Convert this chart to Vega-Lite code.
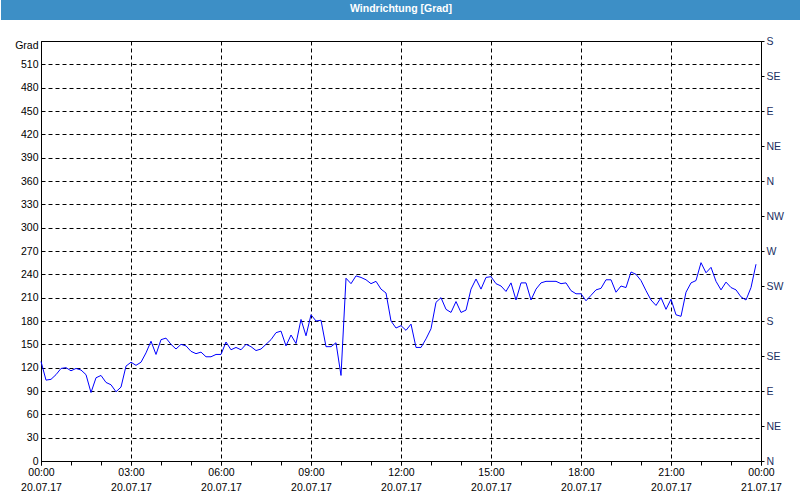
{
  "$schema": "https://vega.github.io/schema/vega-lite/v6.json",
  "background": "white",
  "padding": 0,
  "spacing": 0,
  "datasets": {
    "title": [{"label": "Windrichtung [Grad]"}],
    "wind": [
      {"m": 0, "v": 128}, {"m": 10, "v": 104}, {"m": 20, "v": 105}, {"m": 30, "v": 111}, {"m": 40, "v": 119}, {"m": 50, "v": 120},
      {"m": 60, "v": 116}, {"m": 70, "v": 119}, {"m": 80, "v": 117}, {"m": 90, "v": 111}, {"m": 100, "v": 88}, {"m": 110, "v": 107},
      {"m": 120, "v": 110}, {"m": 130, "v": 101}, {"m": 140, "v": 98}, {"m": 150, "v": 89}, {"m": 160, "v": 95}, {"m": 170, "v": 122},
      {"m": 180, "v": 127}, {"m": 190, "v": 123}, {"m": 200, "v": 127}, {"m": 210, "v": 139}, {"m": 220, "v": 154}, {"m": 230, "v": 137},
      {"m": 240, "v": 156}, {"m": 250, "v": 158}, {"m": 260, "v": 150}, {"m": 270, "v": 144}, {"m": 280, "v": 150}, {"m": 290, "v": 148},
      {"m": 300, "v": 141}, {"m": 310, "v": 138}, {"m": 320, "v": 140}, {"m": 330, "v": 134}, {"m": 340, "v": 134}, {"m": 350, "v": 137},
      {"m": 360, "v": 137}, {"m": 370, "v": 153}, {"m": 380, "v": 143}, {"m": 390, "v": 146}, {"m": 400, "v": 143}, {"m": 410, "v": 150},
      {"m": 420, "v": 147}, {"m": 430, "v": 142}, {"m": 440, "v": 144}, {"m": 450, "v": 150}, {"m": 460, "v": 156}, {"m": 470, "v": 165},
      {"m": 480, "v": 167}, {"m": 490, "v": 148}, {"m": 500, "v": 162}, {"m": 510, "v": 151}, {"m": 520, "v": 182}, {"m": 530, "v": 161},
      {"m": 540, "v": 188}, {"m": 550, "v": 180}, {"m": 560, "v": 181}, {"m": 570, "v": 147}, {"m": 580, "v": 147}, {"m": 590, "v": 152},
      {"m": 600, "v": 110}, {"m": 610, "v": 235}, {"m": 620, "v": 228}, {"m": 630, "v": 238}, {"m": 640, "v": 236}, {"m": 650, "v": 233},
      {"m": 660, "v": 228}, {"m": 670, "v": 231}, {"m": 680, "v": 221}, {"m": 690, "v": 216}, {"m": 700, "v": 180}, {"m": 710, "v": 171},
      {"m": 720, "v": 174}, {"m": 730, "v": 168}, {"m": 740, "v": 176}, {"m": 750, "v": 146}, {"m": 760, "v": 146}, {"m": 770, "v": 157},
      {"m": 780, "v": 170}, {"m": 790, "v": 204}, {"m": 800, "v": 210}, {"m": 810, "v": 195}, {"m": 820, "v": 191}, {"m": 830, "v": 205},
      {"m": 840, "v": 191}, {"m": 850, "v": 194}, {"m": 860, "v": 221}, {"m": 870, "v": 234}, {"m": 880, "v": 221}, {"m": 890, "v": 236},
      {"m": 900, "v": 237}, {"m": 910, "v": 228}, {"m": 920, "v": 225}, {"m": 930, "v": 218}, {"m": 940, "v": 229}, {"m": 950, "v": 207},
      {"m": 960, "v": 229}, {"m": 970, "v": 229}, {"m": 980, "v": 207}, {"m": 990, "v": 221}, {"m": 1000, "v": 229}, {"m": 1010, "v": 231},
      {"m": 1020, "v": 231}, {"m": 1030, "v": 231}, {"m": 1040, "v": 228}, {"m": 1050, "v": 229}, {"m": 1060, "v": 219}, {"m": 1070, "v": 215},
      {"m": 1080, "v": 215}, {"m": 1090, "v": 206}, {"m": 1100, "v": 213}, {"m": 1110, "v": 220}, {"m": 1120, "v": 222}, {"m": 1130, "v": 233},
      {"m": 1140, "v": 233}, {"m": 1150, "v": 217}, {"m": 1160, "v": 225}, {"m": 1170, "v": 223}, {"m": 1180, "v": 243}, {"m": 1190, "v": 240},
      {"m": 1200, "v": 232}, {"m": 1210, "v": 219}, {"m": 1220, "v": 207}, {"m": 1230, "v": 200}, {"m": 1240, "v": 210}, {"m": 1250, "v": 195},
      {"m": 1260, "v": 208}, {"m": 1270, "v": 188}, {"m": 1280, "v": 186}, {"m": 1290, "v": 217}, {"m": 1300, "v": 229}, {"m": 1310, "v": 232},
      {"m": 1320, "v": 255}, {"m": 1330, "v": 242}, {"m": 1340, "v": 249}, {"m": 1350, "v": 231}, {"m": 1360, "v": 220}, {"m": 1370, "v": 230},
      {"m": 1380, "v": 223}, {"m": 1390, "v": 220}, {"m": 1400, "v": 211}, {"m": 1410, "v": 207}, {"m": 1420, "v": 223}, {"m": 1430, "v": 253}
    ]
  },
  "vconcat": [
    {
      "width": 720,
      "height": 20,
      "view": {"stroke": null},
      "data": {"name": "title"},
      "layer": [
        {
          "mark": {"type": "rect", "color": "#3d8fc6", "clip": false},
          "encoding": {
            "x": {"datum": -80, "type": "quantitative", "scale": {"domain": [0, 1440], "nice": false, "zero": false}, "axis": null},
            "x2": {"datum": 1520}
          }
        },
        {
          "mark": {"type": "text", "color": "white", "font": "Liberation Sans", "fontWeight": "bold", "fontSize": 10.5, "baseline": "middle", "dy": -1},
          "encoding": {"text": {"field": "label", "type": "nominal"}}
        }
      ]
    },
    {
      "width": 720,
      "height": 420,
      "view": {"stroke": "black", "strokeWidth": 1},
      "data": {"name": "wind"},
      "layer": [
        {
          "mark": {"type": "line", "color": "#0000ff", "strokeWidth": 1},
          "encoding": {
            "x": {
              "field": "m", "type": "quantitative",
              "scale": {"domain": [0, 1440], "nice": false, "zero": false},
              "axis": {
                "orient": "bottom",
                "title": " ",
                "titleX": -40, "titleY": -440, "titleAlign": "left", "titleBaseline": "top", "titleFontSize": 10,
                "values": [0, 180, 360, 540, 720, 900, 1080, 1260, 1440],
                "labelExpr": "[(floor(datum.value / 60) % 24 < 10 ? '0' : '') + (floor(datum.value / 60) % 24) + ':00', datum.value >= 1440 ? '21.07.17' : '20.07.17']",
                "labelOverlap": false, "labelFlush": false,
                "labelFont": "Liberation Sans", "labelFontSize": 10.5, "labelColor": "black", "labelPadding": 2, "labelLineHeight": 15, "labelBaseline": "top",
                "tickSize": 4, "tickColor": "black", "domainColor": "black",
                "grid": true, "gridColor": "black", "gridDash": [4, 3]
              }
            },
            "y": {
              "field": "v", "type": "quantitative",
              "scale": {"domain": [0, 540], "nice": false},
              "axis": {
                "orient": "left",
                "title": "Grad", "titleAngle": 0, "titleAlign": "right", "titleBaseline": "middle", "titleX": -3, "titleY": 4,
                "titleFont": "Liberation Sans", "titleFontWeight": "normal", "titleFontSize": 10.5, "titleColor": "black",
                "values": [0, 30, 60, 90, 120, 150, 180, 210, 240, 270, 300, 330, 360, 390, 420, 450, 480, 510],
                "labelFont": "Liberation Sans", "labelFontSize": 10.5, "labelColor": "black", "labelPadding": 3,
                "ticks": false, "domainColor": "black",
                "grid": true, "gridColor": "black", "gridDash": [4, 3]
              }
            }
          }
        },
        {
          "mark": {"type": "line", "opacity": 0},
          "encoding": {
            "x": {
              "field": "m", "type": "quantitative",
              "axis": {
                "orient": "bottom", "title": null,
                "values": [0, 60, 120, 180, 240, 300, 360, 420, 480, 540, 600, 660, 720, 780, 840, 900, 960, 1020, 1080, 1140, 1200, 1260, 1320, 1380, 1440],
                "labels": false, "domain": false, "grid": false,
                "tickSize": 4, "tickColor": "black"
              }
            },
            "y": {
              "field": "v", "type": "quantitative",
              "axis": {
                "orient": "right", "title": null,
                "values": [0, 45, 90, 135, 180, 225, 270, 315, 360, 405, 450, 495, 540],
                "labelExpr": "['N','NE','E','SE','S','SW','W','NW'][round(datum.value / 45) % 8]",
                "labelFont": "Liberation Sans", "labelFontSize": 10.5, "labelColor": "#1a2f5f", "labelPadding": 2,
                "tickSize": 3, "tickColor": "black", "domainColor": "black",
                "grid": false, "labelOverlap": false, "labelFlush": false
              }
            }
          }
        }
      ],
      "resolve": {"axis": {"x": "independent", "y": "independent"}}
    }
  ]
}
